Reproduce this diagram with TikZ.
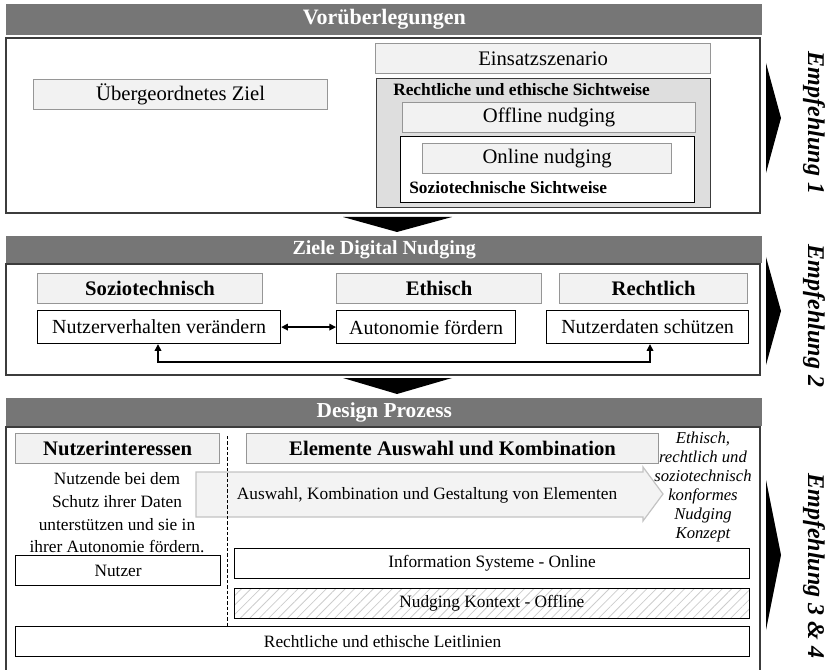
\documentclass[tikz,border=0pt]{standalone}
\usepackage{fontspec}
\setmainfont{Liberation Serif}
\usetikzlibrary{arrows.meta,patterns.meta}
\definecolor{hdrgray}{RGB}{118,118,118}
\definecolor{lightfill}{RGB}{242,242,242}
\definecolor{lightborder}{RGB}{150,150,150}
\definecolor{rechtfill}{RGB}{222,222,222}
\definecolor{framecol}{RGB}{60,60,60}
\definecolor{arrowfill}{RGB}{243,243,243}
\definecolor{arrowborder}{RGB}{195,195,195}
\begin{document}
\begin{tikzpicture}[x=0.75pt,y=-0.75pt,
  sz/.style 2 args={minimum width=#1*0.75pt, minimum height=#2*0.75pt},
  hdr/.style={fill=hdrgray, draw=none, text=white, inner sep=0pt, anchor=north west, font=\bfseries\fontsize{15}{17}\selectfont},
  frame/.style={draw=framecol, line width=1.1pt},
  lbox/.style={fill=lightfill, draw=lightborder, line width=0.9pt, inner sep=0pt, anchor=north west, font=\fontsize{15.5}{17}\selectfont},
  lboxb/.style={lbox, font=\bfseries\fontsize{15.5}{17}\selectfont},
  wbox/.style={fill=white, draw=black, line width=0.9pt, inner sep=0pt, anchor=north west, font=\fontsize{13}{15}\selectfont},
  hatchbox/.style={wbox, pattern={Lines[angle=45,distance=5pt,line width=0.6pt]}, pattern color=black!20},
  empf/.style={rotate=-90, font=\bfseries\itshape\fontsize{18}{20}\selectfont, inner sep=0pt},
  bold13/.style={font=\bfseries\fontsize{13}{15}\selectfont, inner sep=0pt, anchor=west},
  dbl/.style={{Triangle[length=5pt,width=5pt]}-{Triangle[length=5pt,width=5pt]}, line width=0.9pt}
]
\useasboundingbox (0,0) rectangle (832,670);
\path[clip] (0,0) rectangle (832,670);

% ---------- Section 1 ----------
\node[hdr, sz={756}{31}, font=\bfseries\fontsize{16.5}{18}\selectfont] (h1) at (6,4) {Vorüberlegungen};
\draw[frame] (6,38) rectangle (760,213);
\node[lbox, sz={294}{30}] (ziel) at (33,79) {Übergeordnetes Ziel};
\node[lbox, sz={335}{30}] (einsatz) at (375,43) {Einsatzszenario};
\node[fill=rechtfill, draw=framecol, line width=1pt, anchor=north west, inner sep=0pt, sz={334}{129}] (recht) at (376,78) {};
\node[bold13] (rechtt) at (393,90) {Rechtliche und ethische Sichtweise};
\node[lbox, sz={293}{30}] (offline) at (402,102) {Offline nudging};
\node[fill=white, draw=black, line width=1pt, anchor=north west, inner sep=0pt, sz={294}{66}] (sozio) at (400,136) {};
\node[lbox, sz={249}{30}] (online) at (422,143) {Online nudging};
\node[bold13] (soziot) at (409,188) {Soziotechnische Sichtweise};
\fill (766,63) -- (781,118) -- (766,173) -- cycle;
\node[empf] (e1) at (814,123) {Empfehlung 1};
\fill (343,217) -- (452,217) -- (397,232) -- cycle;

% ---------- Section 2 ----------
\node[hdr, sz={756}{27}] (h2) at (6,236) {Ziele Digital Nudging};
\draw[frame] (6,264) rectangle (760,375);
\node[lboxb, sz={225}{30}] (st) at (37,273) {Soziotechnisch};
\node[lboxb, sz={205}{30}] (eth) at (336,273) {Ethisch};
\node[lboxb, sz={188}{30}] (rl) at (559,273) {Rechtlich};
\node[wbox, sz={243}{33}, font=\fontsize{15}{17}\selectfont] (nv) at (37,310) {Nutzerverhalten verändern};
\node[wbox, sz={179}{33}, font=\fontsize{15}{17}\selectfont] (af) at (336,310) {Autonomie fördern};
\node[wbox, sz={202}{33}, font=\fontsize{15}{17}\selectfont] (nd) at (546,310) {Nutzerdaten schützen};
\draw[dbl] (nv.east) -- (af.west);
\coordinate (c1) at (158,362);
\coordinate (c2) at (650,362);
\draw[dbl] (nv.south -| c1) -- (c1) -- (c2) -- (nd.south -| c2);
\fill (766,257) -- (781,311) -- (766,365) -- cycle;
\node[empf] (e2) at (814,316) {Empfehlung 2};
\fill (343,378) -- (452,378) -- (397,394) -- cycle;

% ---------- Section 3 ----------
\node[hdr, sz={756}{28}, font=\bfseries\fontsize{16}{18}\selectfont] (h3) at (6,398) {Design Prozess};
\draw[frame] (6,690) -- (6,427) -- (760,427) -- (760,690);
\node[lboxb, sz={204}{30}] (ni) at (15,433) {Nutzerinteressen};
\node[lboxb, sz={412}{30}] (el) at (246,433) {Elemente Auswahl und Kombination};
\filldraw[fill=arrowfill, draw=arrowborder, line width=0.9pt]
  (196,472) -- (643,472) -- (643,467) -- (663,494) -- (643,521) -- (643,517) -- (196,517) -- cycle;
\node[font=\fontsize{13}{15}\selectfont, inner sep=0pt] (aw) at (427,495) {Auswahl, Kombination und Gestaltung von Elementen};
\node[align=center, font=\fontsize{13}{17}\selectfont, inner sep=0pt] (nt) at (117,513)
  {Nutzende bei dem\\Schutz ihrer Daten\\unterstützen und sie in\\ihrer Autonomie fördern.};
\node[align=center, font=\itshape\fontsize{12.5}{14.3}\selectfont, inner sep=0pt] (konz) at (703,487)
  {Ethisch,\\rechtlich und\\soziotechnisch\\konformes\\Nudging\\Konzept};
\node[wbox, sz={205}{30}] (nu) at (15,555) {Nutzer};
\node[wbox, sz={515}{30}] (is) at (234,548) {Information Systeme - Online};
\node[hatchbox, sz={515}{30}] (nk) at (234,588) {Nudging Kontext - Offline};
\node[wbox, sz={734}{30}] (ll) at (15,626) {Rechtliche und ethische Leitlinien};
\coordinate (d1) at (227,436);
\draw[dashed, line width=0.7pt, dash pattern=on 2.5pt off 1.5pt] (d1) -- (d1 |- ll.north);
\fill (766,480) -- (781,555) -- (766,630) -- cycle;
\node[empf] (e3) at (814,566) {Empfehlung 3 \& 4};
\end{tikzpicture}
\end{document}
